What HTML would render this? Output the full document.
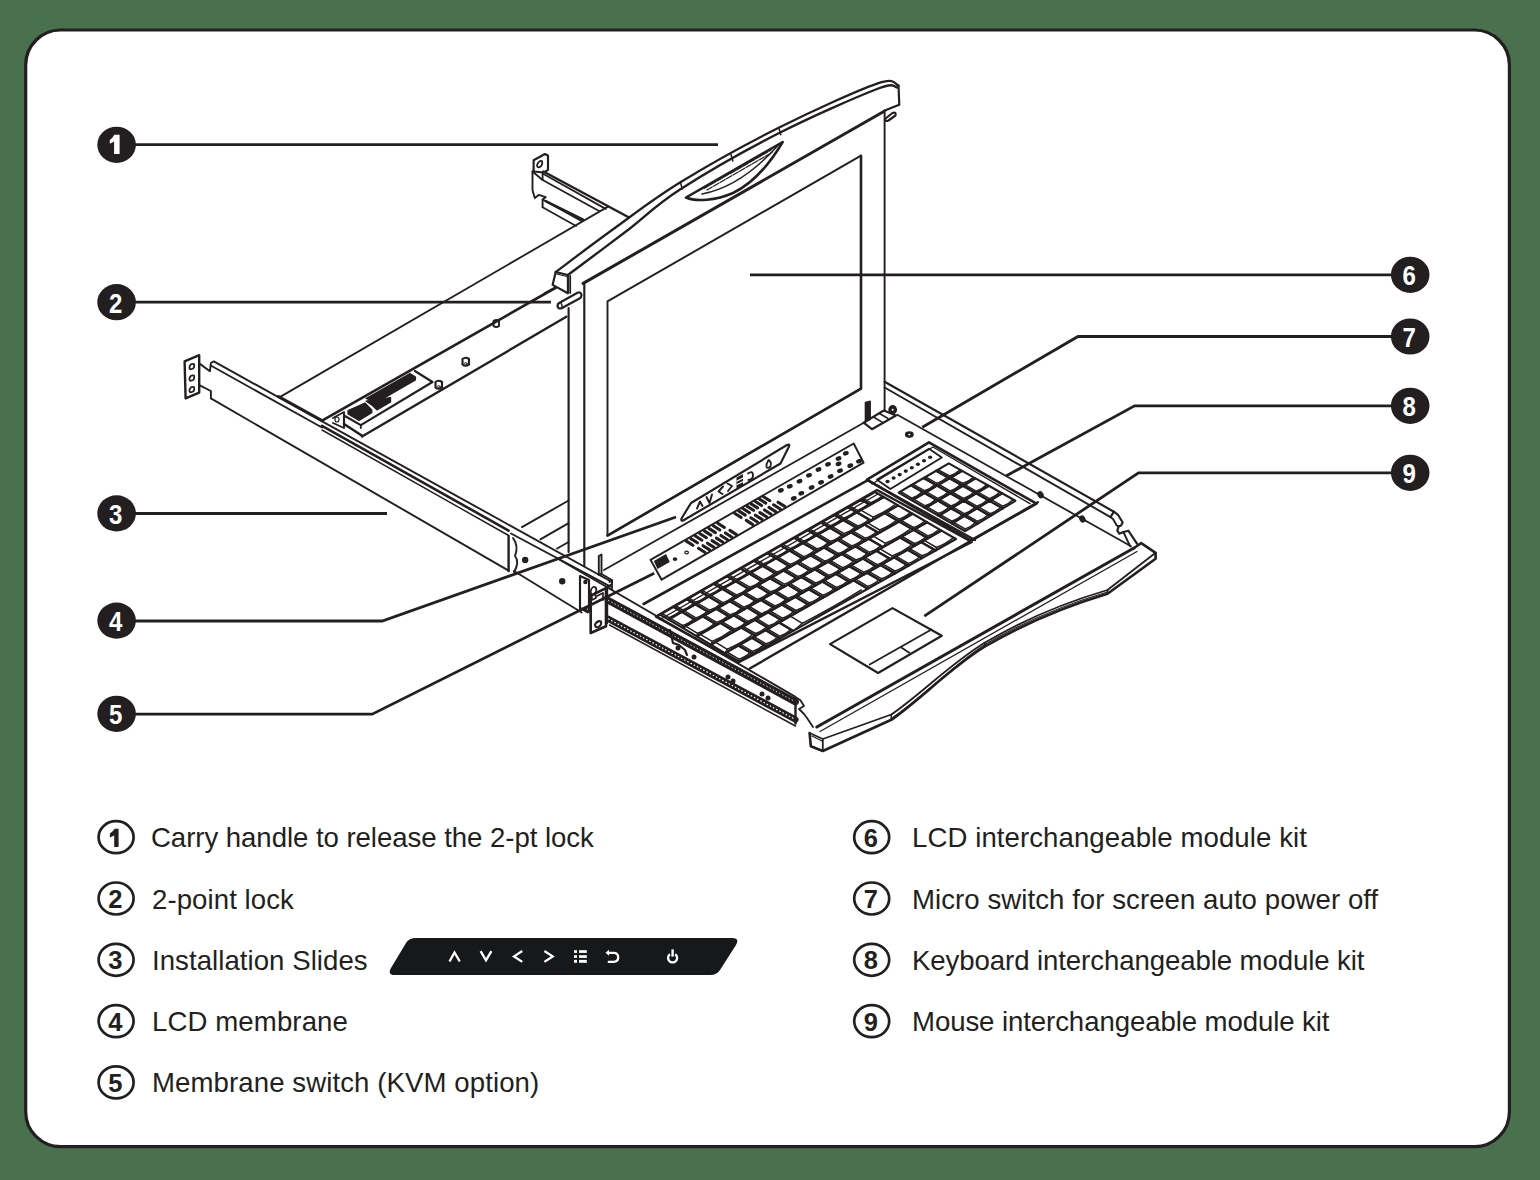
<!DOCTYPE html>
<html><head><meta charset="utf-8">
<style>
html,body{margin:0;padding:0;}
body{width:1540px;height:1180px;background:#4a714e;position:relative;overflow:hidden;font-family:"Liberation Sans",sans-serif;}
svg{position:absolute;left:0;top:0;}
.lg{position:absolute;font-size:27.6px;color:#231f20;white-space:nowrap;line-height:1;}
</style></head><body>
<svg width="1540" height="1180" viewBox="0 0 1540 1180">
<rect x="25.7" y="30" width="1483.7" height="1116.7" rx="35" ry="35" fill="#fff" stroke="#231f20" stroke-width="3.2"/>
<g id="drawing" fill="none" stroke="#231f20" stroke-width="1.5" stroke-linejoin="round" stroke-linecap="round">
<path d="M533.6 160.2 L544.9 154.0 L548.0 155.5 L548.0 169.9 L544.0 172.5 L533.6 171.5Z" stroke-width="2.16" fill="none" />
<path d="M537 165 Q539 160 542 161 Q543 165 540 167 Q537 168 537 165Z" stroke-width="1.8" fill="none" />
<path d="M532.5 171.5 L532.5 190.2 L534.8 198.0 L538.7 194.9 L545.7 197.2 L542.6 199.5 L542.6 207.3" stroke-width="1.92" fill="none" />
<path d="M543.4 171.5 L629.1 217.5" stroke-width="2.4" fill="none" />
<path d="M542.6 173.5 L605.7 208.9" stroke-width="1.8" fill="none" />
<path d="M542.6 180.0 L599.5 211.2" stroke-width="1.8" fill="none" />
<path d="M542.6 173.5 L542.6 180.0" stroke-width="1.8" fill="none" />
<path d="M532.5 171.5 L542.6 180.0" stroke-width="1.8" fill="none" />
<path d="M542.6 199.5 L582.3 221.4" stroke-width="1.68" fill="none" />
<path d="M545.7 201.1 L583.1 219.8" stroke-width="2.64" fill="none" />
<path d="M542.6 207.3 L576.1 226.0" stroke-width="1.68" fill="none" />
<path d="M280.2 396.9 L608.0 206.6" stroke-width="1.8" fill="none" />
<path d="M278.5 396.5 L322.0 420.5" stroke-width="3" fill="none" />
<path d="M323.4 419.8 L556.0 287.5" stroke-width="2.64" fill="none" />
<path d="M362.0 436.5 L566.3 316.8" stroke-width="2.4" fill="none" />
<path d="M414.9 371.0 L432.5 382.0 L360.8 425.1 L344.0 415.5 L344.0 424.0" stroke-width="2.16" fill="none" />
<path d="M360.8 425.1 L360.8 428.0" stroke-width="1.8" fill="none" />
<path d="M344.0 424.0 L362.5 436.0" stroke-width="2.64" fill="none" />
<path d="M366 398.5 L410 373.5 L415.5 377 L415.5 380 L376.5 402.5 Z" stroke-width="1.2" fill="#231f20" />
<path d="M366 401 L390.6 397.5 L390.6 402 L377 410 L373 406 Z" stroke-width="1.2" fill="#231f20" />
<path d="M348 410.5 L365 403 L371.8 410 L371.8 412.8 L359 420.5 L348 414 Z" stroke-width="1.2" fill="#231f20" />
<path d="M333.0 418.0 L344.0 412.0 L344.0 428.0 L333.0 423.0" stroke-width="1.92" fill="none" />
<ellipse cx="337" cy="419.5" rx="2" ry="2.5" stroke-width="1.2"/>
<path d="M462.5 359 Q465.5 356.5 469 359 L469 364.5 Q465.5 367 462.5 364.5Z" stroke-width="2.16" fill="none" />
<ellipse cx="465.7" cy="363.5" rx="1.4" ry="0.9" stroke-width="0.9"/>
<path d="M435.5 382 Q438.5 379.5 442 382 L442 387.5 Q438.5 390 435.5 387.5Z" stroke-width="2.16" fill="none" />
<ellipse cx="438.7" cy="386.5" rx="1.4" ry="0.9" stroke-width="0.9"/>
<path d="M493.5 321 Q496.3 319 499 321 L499 326 Q496.3 328 493.5 326Z" stroke-width="1.92" fill="none" />
<path d="M184.6 361.4 L199.2 355.2 L199.2 392.6 L185.6 398.4Z" stroke-width="2.4" fill="none" />
<path d="M189.5 367 Q190.5 363 194 364 Q195 368 192 369 Q189 370 189.5 367Z" stroke-width="1.8" fill="none" />
<path d="M189.5 378.5 Q190.5 374.5 194 375.5 Q195 379.5 192 380.5 Q189 381.5 189.5 378.5Z" stroke-width="1.8" fill="none" />
<path d="M189.5 390 Q190.5 386 194 387 Q195 391 192 392 Q189 393 189.5 390Z" stroke-width="1.8" fill="none" />
<path d="M199.2 363.4 L209.9 371.2 L210.9 363.0 L213.8 361.4 L612.0 582.0" stroke-width="1.92" fill="none" />
<path d="M211.2 365.8 L322.0 427.5" stroke-width="1.8" fill="none" />
<path d="M511.0 533.5 L610.5 586.6" stroke-width="1.8" fill="none" />
<path d="M322.0 425.8 L508.6 530.6" stroke-width="2.6" fill="none" />
<path d="M322.0 430.0 L508.6 535.5" stroke-width="1.44" fill="none" />
<path d="M199.2 385.2 L210.9 391.0 L210.9 398.4 L508.6 570.6" stroke-width="1.92" fill="none" />
<path d="M508.6 536.0 L508.6 571.0" stroke-width="2.4" fill="none" />
<path d="M513 538 Q519 546 515 556 Q520 562 514 572" stroke-width="1.92" fill="none" />
<path d="M514.0 571.0 L581.7 612.5" stroke-width="1.8" fill="none" />
<ellipse cx="525.2" cy="559.9" rx="3.2" ry="3.2" fill="#231f20" stroke="none" transform="rotate(0 525.2 559.9)"/>
<ellipse cx="562.2" cy="581.3" rx="3.2" ry="3.2" fill="#231f20" stroke="none" transform="rotate(0 562.2 581.3)"/>
<path d="M612.0 582.0 L612.0 590.0 L560.0 560.0" stroke-width="1.8" fill="none" />
<path d="M580.0 576.0 L589.0 580.0 L589.0 612.0 L580.0 608.0Z" stroke-width="2.16" fill="none" />
<path d="M580.0 608.0 L587.6 612.6" stroke-width="1.8" fill="none" />
<path d="M590.7 595.8 L606.0 588.1 L606.0 626.3 L590.7 633.0Z" stroke-width="2.64" fill="none" />
<path d="M589.0 590.0 L590.7 595.8" stroke-width="1.8" fill="none" />
<path d="M595 624.5 Q597.5 620 601 621.5 Q602 625 598.5 627 Q595 628 595 624.5Z" stroke-width="2.04" fill="none" />
<ellipse cx="585.4" cy="582.0" rx="2.2" ry="2.2" fill="#231f20" stroke="none" transform="rotate(0 585.4 582.0)"/>
<ellipse cx="585.4" cy="608.6" rx="2.2" ry="2.2" fill="#231f20" stroke="none" transform="rotate(0 585.4 608.6)"/>
<path d="M591 590 Q593 585 596 588 Q597 591 595 593 L596 598 L592 600 L591.5 594 Q590 592 591 590Z" stroke-width="1.8" fill="none" />
<path d="M597 596 L603 593 L603 600" stroke-width="1.68" fill="none" />
<path d="M598.8 556.0 L601.5 554.5 L601.5 574.0 L598.8 575.0Z" stroke-width="1.92" fill="none" />
<path d="M601.5 574.0 L611.0 579.5 L609.5 582.0" stroke-width="1.92" fill="none" />
<path d="M606.0 588.1 L612.0 584.0 L612.0 580.0" stroke-width="1.92" fill="none" />
<path d="M522.0 527.1 L568.6 500.5" stroke-width="1.92" fill="none" />
<path d="M540.4 539.3 L568.6 523.2" stroke-width="1.92" fill="none" />
<path d="M557.1 548.5 L568.6 542.0" stroke-width="1.92" fill="none" />
<path d="M555.7 272.0 C565.1 265.0 591.4 244.9 612.1 230.0 C632.8 215.1 652.3 199.5 680.0 182.5 C707.7 165.5 745.4 144.5 778.2 128.0 C811.0 111.5 857.0 90.6 877.0 83.6 C897.0 76.5 894.9 85.3 898.5 85.7" stroke-width="2.28" fill="none" />
<path d="M567.9 275.0 C577.7 267.7 607.9 245.2 626.6 231.0 C645.3 216.8 654.7 205.8 680.0 189.5 C705.3 173.2 745.4 150.2 778.2 133.5 C811.0 116.8 857.2 96.7 877.0 89.0 C896.8 81.3 893.7 87.8 897.0 87.5" stroke-width="2.4" fill="none" />
<path d="M898.5 85.7 L899.3 104.7 L884.1 110.7" stroke-width="2.16" fill="none" />
<path d="M680.5 182.5 L682.3 189.0" stroke-width="1.56" fill="none" />
<path d="M731.0 154.5 L732.8 161.0" stroke-width="1.56" fill="none" />
<path d="M779.0 128.2 L780.8 134.7" stroke-width="1.56" fill="none" />
<path d="M555.7 272.0 L567.9 275.0 L567.9 293.3 L552.6 284.9Z" stroke-width="2.16" fill="none" />
<path d="M570.2 276.0 L570.2 293.0" stroke-width="1.8" fill="none" />
<path d="M556.5 274.0 L567.0 276.5" stroke-width="1.2" fill="none" />
<path d="M545.0 293.3 L554.9 288.0" stroke-width="2.4" fill="none" />
<path d="M583.1 283.4 L884.2 111.3" stroke-width="3" fill="none" />
<path d="M686 197.5 L782.7 142 C772 160 756 182 733 193 C716 200.5 696 202 686 197.5Z" stroke-width="2.52" fill="none" />
<path d="M702 194 C728 189 752 174 777 146.5" stroke-width="1.56" fill="none" />
<path d="M704.0 188.5 L771.0 150.0" stroke-width="1.32" fill="none" stroke-dasharray="6 1.5"/>
<path d="M707.0 190.0 L772.0 152.5" stroke-width="1.32" fill="none" stroke-dasharray="6 1.5"/>
<path d="M560 302.5 L577.5 292.8 Q581 291.5 581.5 295 Q581.5 297.5 579.5 298.5 L562 308 Q558 309.5 557.5 306 Q557.5 303.5 560 302.5Z" stroke-width="2.16" fill="none" />
<path d="M561 303 Q563 306.5 561.5 308.5" stroke-width="1.44" fill="none" />
<path d="M885.5 118.5 L892.5 113 Q896.5 111.5 895.5 115.5 L888.5 120.5 Q884.5 122 885.5 118.5Z" stroke-width="2.16" fill="none" />
<path d="M568.6 308.0 L568.6 552.0" stroke-width="2.16" fill="none" />
<path d="M584.3 283.0 L584.3 566.0" stroke-width="2.16" fill="none" />
<path d="M884.6 111.0 L884.6 410.0" stroke-width="1.92" fill="none" />
<path d="M607.5 301.4 L861.0 155.7 L861.0 388.7 L607.5 535.5Z" stroke-width="1.92" fill="none" />
<path d="M861.0 155.7 L861.0 388.7 L607.5 535.5" stroke-width="2.6" fill="none" />
<path d="M604.0 570.0 L866.0 421.5" stroke-width="1.8" fill="none" />
<path d="M884.6 381.7 L1113.9 511.7 L1118.0 514.8 L1122.7 522.5 L1121.0 525.5 L1118.6 526.6 L1117.3 530.7 L1119.3 533.7 L1123.4 532.0 L1128.3 530.7 L1137.0 543.6" stroke-width="2.16" fill="none" />
<path d="M884.6 387.5 L1110.5 517.1 L1113.0 519.0 L1116.6 525.3 L1118.6 526.6" stroke-width="1.92" fill="none" />
<path d="M1123.4 532.0 L1130.2 546.3" stroke-width="1.92" fill="none" />
<path d="M1113.9 511.7 L1110.5 517.1" stroke-width="2.16" fill="none" />
<path d="M865.4 402.5 L870.2 401.3 L870.2 419.5 L865.4 421.5Z" stroke-width="1.44" fill="#231f20" />
<path d="M863.6 422.7 L883.8 410.5 L896.0 415.5 L871.9 429.2Z" stroke-width="2.16" fill="none" />
<path d="M873.5 417.0 L882.0 422.2" stroke-width="1.56" fill="none" />
<path d="M879.5 413.5 L888.0 418.5" stroke-width="1.56" fill="none" />
<ellipse cx="892.7" cy="409.7" rx="4.4" ry="4.6" fill="#231f20" stroke="none" transform="rotate(0 892.7 409.7)"/>
<ellipse cx="892.7" cy="409.7" rx="1.0" ry="1.0" fill="#fff" stroke="none" transform="rotate(0 892.7 409.7)"/>
<ellipse cx="909.3" cy="434.6" rx="4.4" ry="3.3" fill="#231f20" stroke="none" transform="rotate(0 909.3 434.6)"/>
<ellipse cx="909.3" cy="434.6" rx="1.1" ry="0.8" fill="#fff" stroke="none" transform="rotate(0 909.3 434.6)"/>
<ellipse cx="1040.5" cy="494.7" rx="3" ry="3.8" fill="#231f20" stroke="none" transform="rotate(-30 1040.5 494.7)"/>
<ellipse cx="1082.4" cy="519.0" rx="3" ry="3.8" fill="#231f20" stroke="none" transform="rotate(-30 1082.4 519.0)"/>
<path d="M691 503 L787 445 Q790 443.5 789 446.5 L780.5 463.5 L684 520 Q680.5 522 681.5 518.5 Z" stroke-width="2.16" fill="none" />
<path d="M650.5 559.8 L853.7 443.5 L863.6 462.7 L661.6 579.7Z" stroke-width="1.92" fill="none" />
<path d="M607.0 588.0 L607.0 623.0" stroke-width="2.4" fill="none" />
<path d="M608.5 588.0 L794.6 696.4" stroke-width="1.92" fill="none" />
<path d="M608.5 600.5 L795.4 701.8" stroke-width="7" fill="none" />
<path d="M608.5 600.5 L795.4 701.8" stroke-width="0.84" fill="none" stroke="#fff" stroke-dasharray="0.6 3"/>
<path d="M608.5 619.0 L795.4 719.5" stroke-width="6.5" fill="none" />
<path d="M608.5 619.0 L795.4 719.5" stroke-width="1.2" fill="none" stroke="#fff" stroke-dasharray="0.6 3"/>
<path d="M609.5 625.0 L795.5 726.0" stroke-width="1.56" fill="none" />
<path d="M670.0 630.0 L673.0 643.0 L679.0 645.0 L685.0 650.0 L687.0 655.0" stroke-width="2.16" fill="none" />
<ellipse cx="678.0" cy="648.0" rx="2.5" ry="2.5" fill="#231f20" stroke="none" transform="rotate(0 678.0 648.0)"/>
<ellipse cx="694.0" cy="657.0" rx="2.5" ry="2.5" fill="#231f20" stroke="none" transform="rotate(0 694.0 657.0)"/>
<ellipse cx="728.0" cy="677.0" rx="2.5" ry="2.5" fill="#231f20" stroke="none" transform="rotate(0 728.0 677.0)"/>
<ellipse cx="733.0" cy="681.0" rx="2.5" ry="2.5" fill="#231f20" stroke="none" transform="rotate(0 733.0 681.0)"/>
<ellipse cx="762.0" cy="694.0" rx="2.5" ry="2.5" fill="#231f20" stroke="none" transform="rotate(0 762.0 694.0)"/>
<ellipse cx="768.0" cy="698.0" rx="2.5" ry="2.5" fill="#231f20" stroke="none" transform="rotate(0 768.0 698.0)"/>
<path d="M794.6 696.4 L800.4 700.3 L804.0 706.0 L799.0 709.0 L804.0 714.0 L807.0 718.0 L813.0 727.0" stroke-width="1.8" fill="none" />
<path d="M795.5 698.0 L795.5 723.6" stroke-width="2.4" fill="none" />
<path d="M816.8 727.0 L1134.0 548.0" stroke-width="3" fill="none" />
<path d="M820.0 731.5 L1137.0 551.5" stroke-width="1.32" fill="none" />
<path d="M809.6 733 L810.8 746.2 L822.8 751 L891.3 719.8 C920 700 950 668 985 646.5 C1030 620 1070 605 1107.5 593.7 L1155.6 558.8 L1155.6 552.8 L1141.2 543.2 L1134 548" stroke-width="2.64" fill="none" />
<path d="M809.6 733 L822.8 739 L822.8 751" stroke-width="1.8" fill="none" />
<path d="M822.8 739 L891.3 714.5 C920 695 950 664 985 642.5 C1030 616 1070 601 1107.5 590 L1155.6 552.8" stroke-width="1.8" fill="none" />
<path d="M893 717.3 C922 697.5 952 666 985 644.5" stroke-width="1.2" fill="none" />
<path d="M985 644.5 C1030 618 1070 603 1107.5 592" stroke-width="1.2" fill="none" />
<path d="M891.3 714.5 L891.3 719.8" stroke-width="1.56" fill="none" />
<path d="M985.0 642.5 L985.0 646.5" stroke-width="1.56" fill="none" />
<path d="M1107.5 590.0 L1107.5 593.7" stroke-width="1.56" fill="none" />
<path d="M812.0 736.0 L822.0 741.0" stroke-width="1.2" fill="none" />
<path d="M897.3 414.8 L1131.0 546.3" stroke-width="1.8" fill="none" />
<path d="M830.0 644.1 L892.5 608.1 L941.8 635.7 L878.1 673.0Z" stroke-width="2.16" fill="none" />
<path d="M869.7 664.5 L931.5 629.5" stroke-width="1.8" fill="none" />
<path d="M900.9 647.2 L909.3 652.8" stroke-width="1.8" fill="none" />
<path d="M653.8 561 L666 554 L669.8 562 L657.5 569Z" stroke-width="0" fill="#231f20" />
<ellipse cx="675.0" cy="559.1" rx="2.3" ry="1.9" fill="#231f20" stroke="none" transform="rotate(0 675.0 559.1)"/>
<ellipse cx="686.6" cy="552.5" rx="1.8" ry="1.3" stroke-width="1.2"/>
<path d="M686.3 541.1 L692.9 545.3" stroke-width="3.1"/>
<path d="M690.8 538.6 L697.4 542.8" stroke-width="3.1"/>
<path d="M695.3 536.0 L701.9 540.2" stroke-width="3.1"/>
<path d="M699.8 533.5 L706.4 537.7" stroke-width="3.1"/>
<path d="M704.3 530.9 L710.9 535.1" stroke-width="3.1"/>
<path d="M708.8 528.4 L715.4 532.6" stroke-width="3.1"/>
<path d="M713.3 525.8 L719.9 530.0" stroke-width="3.1"/>
<path d="M717.8 523.3 L724.4 527.5" stroke-width="3.1"/>
<path d="M698.5 548.3 L705.1 552.5" stroke-width="3.1"/>
<path d="M703.0 545.7 L709.6 549.9" stroke-width="3.1"/>
<path d="M707.5 543.2 L714.1 547.4" stroke-width="3.1"/>
<path d="M712.0 540.6 L718.6 544.8" stroke-width="3.1"/>
<path d="M716.4 538.1 L723.0 542.3" stroke-width="3.1"/>
<path d="M720.9 535.5 L727.5 539.7" stroke-width="3.1"/>
<path d="M725.4 533.0 L732.0 537.2" stroke-width="3.1"/>
<path d="M729.9 530.4 L736.5 534.6" stroke-width="3.1"/>
<path d="M734.6 513.3 L741.2 517.5" stroke-width="3.1"/>
<path d="M738.7 510.9 L745.3 515.1" stroke-width="3.1"/>
<path d="M742.8 508.5 L749.4 512.7" stroke-width="3.1"/>
<path d="M746.9 506.1 L753.5 510.3" stroke-width="3.1"/>
<path d="M750.9 503.7 L757.5 507.9" stroke-width="3.1"/>
<path d="M755.0 501.3 L761.6 505.5" stroke-width="3.1"/>
<path d="M759.1 498.9 L765.7 503.1" stroke-width="3.1"/>
<path d="M763.2 496.5 L769.8 500.7" stroke-width="3.1"/>
<path d="M746.3 520.4 L752.9 524.6" stroke-width="3.1"/>
<path d="M750.8 517.8 L757.4 522.0" stroke-width="3.1"/>
<path d="M755.4 515.2 L762.0 519.4" stroke-width="3.1"/>
<path d="M759.9 512.6 L766.5 516.8" stroke-width="3.1"/>
<path d="M764.5 510.0 L771.1 514.2" stroke-width="3.1"/>
<path d="M769.0 507.4 L775.6 511.6" stroke-width="3.1"/>
<path d="M773.6 504.8 L780.2 509.0" stroke-width="3.1"/>
<path d="M778.1 502.2 L784.7 506.4" stroke-width="3.1"/>
<ellipse cx="780.9" cy="490.4" rx="3.0" ry="2.2" fill="#231f20" stroke="none" transform="rotate(-20 780.9 490.4)"/>
<ellipse cx="789.8" cy="486.3" rx="3.0" ry="2.2" fill="#231f20" stroke="none" transform="rotate(-20 789.8 486.3)"/>
<ellipse cx="799.5" cy="481.2" rx="3.0" ry="2.2" fill="#231f20" stroke="none" transform="rotate(-20 799.5 481.2)"/>
<ellipse cx="809.0" cy="475.3" rx="3.0" ry="2.2" fill="#231f20" stroke="none" transform="rotate(-20 809.0 475.3)"/>
<ellipse cx="818.5" cy="469.5" rx="3.0" ry="2.2" fill="#231f20" stroke="none" transform="rotate(-20 818.5 469.5)"/>
<ellipse cx="828.0" cy="464.3" rx="3.0" ry="2.2" fill="#231f20" stroke="none" transform="rotate(-20 828.0 464.3)"/>
<ellipse cx="838.5" cy="458.5" rx="3.0" ry="2.2" fill="#231f20" stroke="none" transform="rotate(-20 838.5 458.5)"/>
<ellipse cx="845.8" cy="453.3" rx="3.0" ry="2.2" fill="#231f20" stroke="none" transform="rotate(-20 845.8 453.3)"/>
<ellipse cx="793.8" cy="498.4" rx="3.0" ry="2.2" fill="#231f20" stroke="none" transform="rotate(-20 793.8 498.4)"/>
<ellipse cx="801.3" cy="493.3" rx="3.0" ry="2.2" fill="#231f20" stroke="none" transform="rotate(-20 801.3 493.3)"/>
<ellipse cx="811.6" cy="487.5" rx="3.0" ry="2.2" fill="#231f20" stroke="none" transform="rotate(-20 811.6 487.5)"/>
<ellipse cx="821.1" cy="482.4" rx="3.0" ry="2.2" fill="#231f20" stroke="none" transform="rotate(-20 821.1 482.4)"/>
<ellipse cx="830.6" cy="476.5" rx="3.0" ry="2.2" fill="#231f20" stroke="none" transform="rotate(-20 830.6 476.5)"/>
<ellipse cx="840.0" cy="470.7" rx="3.0" ry="2.2" fill="#231f20" stroke="none" transform="rotate(-20 840.0 470.7)"/>
<ellipse cx="850.3" cy="465.6" rx="3.0" ry="2.2" fill="#231f20" stroke="none" transform="rotate(-20 850.3 465.6)"/>
<ellipse cx="859.0" cy="461.2" rx="3.0" ry="2.2" fill="#231f20" stroke="none" transform="rotate(-20 859.0 461.2)"/>
<ellipse cx="838.6" cy="463.9" rx="3.0" ry="2.2" fill="#231f20" stroke="none" transform="rotate(-20 838.6 463.9)"/>
<path d="M697 508.5 L700 501.5 L702.5 506" stroke-width="1.92" fill="none" />
<path d="M706.5 497 L709.5 503 L712 494.5" stroke-width="1.92" fill="none" />
<path d="M723 486.5 L718.5 491.5 L722.5 494" stroke-width="1.92" fill="none" />
<path d="M727.5 483.5 L732 486 L728 491" stroke-width="1.92" fill="none" />
<path d="M736.5 477.5 L743 474 L743 485.5 L736.5 489Z" stroke-width="0" fill="#231f20" />
<path d="M737.0 481.0 L743.0 478.0" stroke-width="1.08" fill="none" stroke="#fff"/>
<path d="M737.0 484.5 L743.0 481.5" stroke-width="1.08" fill="none" stroke="#fff"/>
<path d="M748 473.5 Q753 470 753 475.5 Q753 479.5 748.5 480" stroke-width="1.92" fill="none" />
<path d="M768.5 460 Q766 464 766.5 467 Q768 469 770.5 466.5 Q772 462 768.5 460Z" stroke-width="1.8" fill="none" />
<path d="M660.0 614.5 L673.4 606.8 L681.9 611.9 L668.5 619.5Z" stroke-width="2.16" fill="none" />
<path d="M662.5 613.7 L669.2 617.6 Q675.4 615.1 679.8 611.6" stroke-width="1.5" fill="none" />
<path d="M668.5 619.5 L669.2 617.6" stroke-width="1.32" fill="none" />
<path d="M673.4 606.8 L686.9 599.2 L695.4 604.2 L681.9 611.9Z" stroke-width="2.16" fill="none" />
<path d="M676.0 606.0 L682.7 610.0 Q688.9 607.5 693.3 603.9" stroke-width="1.5" fill="none" />
<path d="M681.9 611.9 L682.7 610.0" stroke-width="1.32" fill="none" />
<path d="M686.9 599.2 L700.3 591.5 L708.8 596.6 L695.4 604.2Z" stroke-width="2.16" fill="none" />
<path d="M689.4 598.3 L696.1 602.3 Q702.3 599.8 706.7 596.3" stroke-width="1.5" fill="none" />
<path d="M695.4 604.2 L696.1 602.3" stroke-width="1.32" fill="none" />
<path d="M700.3 591.5 L713.8 583.9 L722.3 588.9 L708.8 596.6Z" stroke-width="2.16" fill="none" />
<path d="M702.8 590.7 L709.6 594.7 Q715.8 592.2 720.2 588.6" stroke-width="1.5" fill="none" />
<path d="M708.8 596.6 L709.6 594.7" stroke-width="1.32" fill="none" />
<path d="M713.8 583.9 L727.2 576.2 L735.7 581.3 L722.3 588.9Z" stroke-width="2.16" fill="none" />
<path d="M716.3 583.0 L723.0 587.0 Q729.2 584.5 733.6 581.0" stroke-width="1.5" fill="none" />
<path d="M722.3 588.9 L723.0 587.0" stroke-width="1.32" fill="none" />
<path d="M727.2 576.2 L740.6 568.6 L749.2 573.6 L735.7 581.3Z" stroke-width="2.16" fill="none" />
<path d="M729.7 575.4 L736.5 579.4 Q742.7 576.9 747.1 573.3" stroke-width="1.5" fill="none" />
<path d="M735.7 581.3 L736.5 579.4" stroke-width="1.32" fill="none" />
<path d="M740.6 568.6 L754.1 560.9 L762.6 565.9 L749.2 573.6Z" stroke-width="2.16" fill="none" />
<path d="M743.2 567.7 L749.9 571.7 Q756.1 569.2 760.5 565.6" stroke-width="1.5" fill="none" />
<path d="M749.2 573.6 L749.9 571.7" stroke-width="1.32" fill="none" />
<path d="M754.1 560.9 L767.5 553.2 L776.1 558.3 L762.6 565.9Z" stroke-width="2.16" fill="none" />
<path d="M756.6 560.1 L763.4 564.0 Q769.6 561.5 774.0 558.0" stroke-width="1.5" fill="none" />
<path d="M762.6 565.9 L763.4 564.0" stroke-width="1.32" fill="none" />
<path d="M767.5 553.2 L780.9 545.6 L789.5 550.6 L776.1 558.3Z" stroke-width="2.16" fill="none" />
<path d="M770.0 552.4 L776.8 556.4 Q783.0 553.9 787.4 550.3" stroke-width="1.5" fill="none" />
<path d="M776.1 558.3 L776.8 556.4" stroke-width="1.32" fill="none" />
<path d="M780.9 545.6 L794.4 537.9 L803.0 543.0 L789.5 550.6Z" stroke-width="2.16" fill="none" />
<path d="M783.5 544.7 L790.3 548.7 Q796.5 546.2 800.9 542.7" stroke-width="1.5" fill="none" />
<path d="M789.5 550.6 L790.3 548.7" stroke-width="1.32" fill="none" />
<path d="M794.4 537.9 L807.8 530.3 L816.4 535.3 L803.0 543.0Z" stroke-width="2.16" fill="none" />
<path d="M796.9 537.1 L803.7 541.1 Q809.9 538.6 814.3 535.0" stroke-width="1.5" fill="none" />
<path d="M803.0 543.0 L803.7 541.1" stroke-width="1.32" fill="none" />
<path d="M807.8 530.3 L821.2 522.6 L829.9 527.7 L816.4 535.3Z" stroke-width="2.16" fill="none" />
<path d="M810.3 529.4 L817.1 533.4 Q823.4 530.9 827.8 527.4" stroke-width="1.5" fill="none" />
<path d="M816.4 535.3 L817.1 533.4" stroke-width="1.32" fill="none" />
<path d="M821.2 522.6 L834.7 515.0 L843.3 520.0 L829.9 527.7Z" stroke-width="2.16" fill="none" />
<path d="M823.8 521.8 L830.6 525.8 Q836.8 523.3 841.2 519.7" stroke-width="1.5" fill="none" />
<path d="M829.9 527.7 L830.6 525.8" stroke-width="1.32" fill="none" />
<path d="M834.7 515.0 L848.1 507.3 L856.8 512.3 L843.3 520.0Z" stroke-width="2.16" fill="none" />
<path d="M837.2 514.1 L844.0 518.1 Q850.3 515.6 854.7 512.1" stroke-width="1.5" fill="none" />
<path d="M843.3 520.0 L844.0 518.1" stroke-width="1.32" fill="none" />
<path d="M848.1 507.3 L861.6 499.7 L870.2 504.7 L856.8 512.3Z" stroke-width="2.16" fill="none" />
<path d="M850.7 506.5 L857.5 510.4 Q863.7 507.9 868.1 504.4" stroke-width="1.5" fill="none" />
<path d="M856.8 512.3 L857.5 510.4" stroke-width="1.32" fill="none" />
<path d="M861.6 499.7 L875.0 492.0 L883.7 497.0 L870.2 504.7Z" stroke-width="2.16" fill="none" />
<path d="M864.1 498.8 L870.9 502.8 Q877.2 500.3 881.6 496.7" stroke-width="1.5" fill="none" />
<path d="M870.2 504.7 L870.9 502.8" stroke-width="1.32" fill="none" />
<path d="M668.5 619.5 L681.9 611.9 L696.0 620.3 L682.6 627.9Z" stroke-width="2.16" fill="none" />
<path d="M671.3 618.9 L682.5 625.5 Q689.3 623.4 693.1 619.5" stroke-width="1.5" fill="none" />
<path d="M682.6 627.9 L682.5 625.5" stroke-width="1.32" fill="none" />
<path d="M681.9 611.9 L695.4 604.2 L709.5 612.6 L696.0 620.3Z" stroke-width="2.16" fill="none" />
<path d="M684.8 611.2 L695.9 617.9 Q702.8 615.7 706.6 611.8" stroke-width="1.5" fill="none" />
<path d="M696.0 620.3 L695.9 617.9" stroke-width="1.32" fill="none" />
<path d="M695.4 604.2 L708.8 596.6 L723.0 605.0 L709.5 612.6Z" stroke-width="2.16" fill="none" />
<path d="M698.2 603.6 L709.4 610.2 Q716.2 608.1 720.1 604.2" stroke-width="1.5" fill="none" />
<path d="M709.5 612.6 L709.4 610.2" stroke-width="1.32" fill="none" />
<path d="M708.8 596.6 L722.3 588.9 L736.5 597.3 L723.0 605.0Z" stroke-width="2.16" fill="none" />
<path d="M711.7 595.9 L722.9 602.6 Q729.7 600.4 733.5 596.5" stroke-width="1.5" fill="none" />
<path d="M723.0 605.0 L722.9 602.6" stroke-width="1.32" fill="none" />
<path d="M722.3 588.9 L735.7 581.3 L749.9 589.6 L736.5 597.3Z" stroke-width="2.16" fill="none" />
<path d="M725.1 588.3 L736.4 594.9 Q743.2 592.8 747.0 588.8" stroke-width="1.5" fill="none" />
<path d="M736.5 597.3 L736.4 594.9" stroke-width="1.32" fill="none" />
<path d="M735.7 581.3 L749.2 573.6 L763.4 582.0 L749.9 589.6Z" stroke-width="2.16" fill="none" />
<path d="M738.6 580.6 L749.8 587.2 Q756.6 585.1 760.5 581.2" stroke-width="1.5" fill="none" />
<path d="M749.9 589.6 L749.8 587.2" stroke-width="1.32" fill="none" />
<path d="M749.2 573.6 L762.6 565.9 L776.9 574.3 L763.4 582.0Z" stroke-width="2.16" fill="none" />
<path d="M752.0 573.0 L763.3 579.6 Q770.1 577.4 773.9 573.5" stroke-width="1.5" fill="none" />
<path d="M763.4 582.0 L763.3 579.6" stroke-width="1.32" fill="none" />
<path d="M762.6 565.9 L776.1 558.3 L790.4 566.7 L776.9 574.3Z" stroke-width="2.16" fill="none" />
<path d="M765.5 565.3 L776.8 571.9 Q783.6 569.8 787.4 565.9" stroke-width="1.5" fill="none" />
<path d="M776.9 574.3 L776.8 571.9" stroke-width="1.32" fill="none" />
<path d="M776.1 558.3 L789.5 550.6 L803.8 559.0 L790.4 566.7Z" stroke-width="2.16" fill="none" />
<path d="M778.9 557.6 L790.2 564.3 Q797.1 562.1 800.9 558.2" stroke-width="1.5" fill="none" />
<path d="M790.4 566.7 L790.2 564.3" stroke-width="1.32" fill="none" />
<path d="M789.5 550.6 L803.0 543.0 L817.3 551.4 L803.8 559.0Z" stroke-width="2.16" fill="none" />
<path d="M792.4 550.0 L803.7 556.6 Q810.5 554.5 814.3 550.6" stroke-width="1.5" fill="none" />
<path d="M803.8 559.0 L803.7 556.6" stroke-width="1.32" fill="none" />
<path d="M803.0 543.0 L816.4 535.3 L830.8 543.7 L817.3 551.4Z" stroke-width="2.16" fill="none" />
<path d="M805.9 542.3 L817.2 549.0 Q824.0 546.8 827.8 542.9" stroke-width="1.5" fill="none" />
<path d="M817.3 551.4 L817.2 549.0" stroke-width="1.32" fill="none" />
<path d="M816.4 535.3 L829.9 527.7 L844.2 536.1 L830.8 543.7Z" stroke-width="2.16" fill="none" />
<path d="M819.3 534.7 L830.6 541.3 Q837.5 539.2 841.3 535.3" stroke-width="1.5" fill="none" />
<path d="M830.8 543.7 L830.6 541.3" stroke-width="1.32" fill="none" />
<path d="M829.9 527.7 L843.3 520.0 L857.7 528.4 L844.2 536.1Z" stroke-width="2.16" fill="none" />
<path d="M832.8 527.0 L844.1 533.6 Q850.9 531.5 854.8 527.6" stroke-width="1.5" fill="none" />
<path d="M844.2 536.1 L844.1 533.6" stroke-width="1.32" fill="none" />
<path d="M843.3 520.0 L856.8 512.3 L871.2 520.7 L857.7 528.4Z" stroke-width="2.16" fill="none" />
<path d="M846.2 519.4 L857.6 526.0 Q864.4 523.8 868.2 519.9" stroke-width="1.5" fill="none" />
<path d="M857.7 528.4 L857.6 526.0" stroke-width="1.32" fill="none" />
<path d="M856.8 512.3 L883.7 497.0 L898.1 505.4 L871.2 520.7Z" stroke-width="2.16" fill="none" />
<path d="M861.7 510.6 L873.1 517.2 Q885.2 512.0 894.4 505.1" stroke-width="1.5" fill="none" />
<path d="M871.2 520.7 L873.1 517.2" stroke-width="1.32" fill="none" />
<path d="M682.6 627.9 L702.8 616.4 L716.9 624.8 L696.7 636.3Z" stroke-width="2.16" fill="none" />
<path d="M686.4 626.7 L697.6 633.3 Q707.1 629.7 713.6 624.3" stroke-width="1.5" fill="none" />
<path d="M696.7 636.3 L697.6 633.3" stroke-width="1.32" fill="none" />
<path d="M702.8 616.4 L716.3 608.8 L730.4 617.2 L716.9 624.8Z" stroke-width="2.16" fill="none" />
<path d="M705.7 615.8 L716.8 622.4 Q723.6 620.3 727.5 616.4" stroke-width="1.5" fill="none" />
<path d="M716.9 624.8 L716.8 622.4" stroke-width="1.32" fill="none" />
<path d="M716.3 608.8 L729.7 601.1 L743.9 609.5 L730.4 617.2Z" stroke-width="2.16" fill="none" />
<path d="M719.1 608.1 L730.3 614.8 Q737.1 612.6 741.0 608.7" stroke-width="1.5" fill="none" />
<path d="M730.4 617.2 L730.3 614.8" stroke-width="1.32" fill="none" />
<path d="M729.7 601.1 L743.2 593.5 L757.4 601.9 L743.9 609.5Z" stroke-width="2.16" fill="none" />
<path d="M732.6 600.5 L743.8 607.1 Q750.6 605.0 754.5 601.1" stroke-width="1.5" fill="none" />
<path d="M743.9 609.5 L743.8 607.1" stroke-width="1.32" fill="none" />
<path d="M743.2 593.5 L756.7 585.8 L770.9 594.2 L757.4 601.9Z" stroke-width="2.16" fill="none" />
<path d="M746.1 592.8 L757.3 599.5 Q764.1 597.3 768.0 593.4" stroke-width="1.5" fill="none" />
<path d="M757.4 601.9 L757.3 599.5" stroke-width="1.32" fill="none" />
<path d="M756.7 585.8 L770.1 578.2 L784.4 586.6 L770.9 594.2Z" stroke-width="2.16" fill="none" />
<path d="M759.5 585.2 L770.8 591.8 Q777.6 589.7 781.5 585.8" stroke-width="1.5" fill="none" />
<path d="M770.9 594.2 L770.8 591.8" stroke-width="1.32" fill="none" />
<path d="M770.1 578.2 L783.6 570.5 L797.9 578.9 L784.4 586.6Z" stroke-width="2.16" fill="none" />
<path d="M773.0 577.5 L784.3 584.1 Q791.1 582.0 794.9 578.1" stroke-width="1.5" fill="none" />
<path d="M784.4 586.6 L784.3 584.1" stroke-width="1.32" fill="none" />
<path d="M783.6 570.5 L797.1 562.9 L811.4 571.2 L797.9 578.9Z" stroke-width="2.16" fill="none" />
<path d="M786.5 569.9 L797.8 576.5 Q804.6 574.3 808.4 570.4" stroke-width="1.5" fill="none" />
<path d="M797.9 578.9 L797.8 576.5" stroke-width="1.32" fill="none" />
<path d="M797.1 562.9 L810.6 555.2 L824.9 563.6 L811.4 571.2Z" stroke-width="2.16" fill="none" />
<path d="M800.0 562.2 L811.3 568.8 Q818.1 566.7 821.9 562.8" stroke-width="1.5" fill="none" />
<path d="M811.4 571.2 L811.3 568.8" stroke-width="1.32" fill="none" />
<path d="M810.6 555.2 L824.0 547.5 L838.4 555.9 L824.9 563.6Z" stroke-width="2.16" fill="none" />
<path d="M813.4 554.5 L824.8 561.2 Q831.6 559.0 835.4 555.1" stroke-width="1.5" fill="none" />
<path d="M824.9 563.6 L824.8 561.2" stroke-width="1.32" fill="none" />
<path d="M824.0 547.5 L837.5 539.9 L851.9 548.3 L838.4 555.9Z" stroke-width="2.16" fill="none" />
<path d="M826.9 546.9 L838.3 553.5 Q845.1 551.4 848.9 547.5" stroke-width="1.5" fill="none" />
<path d="M838.4 555.9 L838.3 553.5" stroke-width="1.32" fill="none" />
<path d="M837.5 539.9 L851.0 532.2 L865.4 540.6 L851.9 548.3Z" stroke-width="2.16" fill="none" />
<path d="M840.4 539.2 L851.7 545.9 Q858.6 543.7 862.4 539.8" stroke-width="1.5" fill="none" />
<path d="M851.9 548.3 L851.7 545.9" stroke-width="1.32" fill="none" />
<path d="M851.0 532.2 L864.5 524.6 L878.9 533.0 L865.4 540.6Z" stroke-width="2.16" fill="none" />
<path d="M853.9 531.6 L865.2 538.2 Q872.1 536.1 875.9 532.2" stroke-width="1.5" fill="none" />
<path d="M865.4 540.6 L865.2 538.2" stroke-width="1.32" fill="none" />
<path d="M864.5 524.6 L884.7 513.1 L899.1 521.5 L878.9 533.0Z" stroke-width="2.16" fill="none" />
<path d="M868.4 523.4 L879.7 530.0 Q889.3 526.3 895.7 520.9" stroke-width="1.5" fill="none" />
<path d="M878.9 533.0 L879.7 530.0" stroke-width="1.32" fill="none" />
<path d="M884.7 513.1 L898.1 505.4 L912.6 513.8 L899.1 521.5Z" stroke-width="2.16" fill="none" />
<path d="M887.6 512.4 L899.0 519.1 Q905.8 516.9 909.6 513.0" stroke-width="1.5" fill="none" />
<path d="M899.1 521.5 L899.0 519.1" stroke-width="1.32" fill="none" />
<path d="M696.7 636.3 L720.3 622.9 L734.4 631.3 L710.8 644.7Z" stroke-width="2.16" fill="none" />
<path d="M701.1 634.8 L712.2 641.4 Q723.0 637.0 730.9 630.9" stroke-width="1.5" fill="none" />
<path d="M710.8 644.7 L712.2 641.4" stroke-width="1.32" fill="none" />
<path d="M720.3 622.9 L733.8 615.3 L748.0 623.7 L734.4 631.3Z" stroke-width="2.16" fill="none" />
<path d="M723.2 622.3 L734.3 628.9 Q741.2 626.8 745.0 622.9" stroke-width="1.5" fill="none" />
<path d="M734.4 631.3 L734.3 628.9" stroke-width="1.32" fill="none" />
<path d="M733.8 615.3 L747.3 607.6 L761.5 616.0 L748.0 623.7Z" stroke-width="2.16" fill="none" />
<path d="M736.7 614.6 L747.9 621.3 Q754.7 619.1 758.5 615.2" stroke-width="1.5" fill="none" />
<path d="M748.0 623.7 L747.9 621.3" stroke-width="1.32" fill="none" />
<path d="M747.3 607.6 L760.8 600.0 L775.0 608.3 L761.5 616.0Z" stroke-width="2.16" fill="none" />
<path d="M750.2 607.0 L761.4 613.6 Q768.2 611.5 772.1 607.5" stroke-width="1.5" fill="none" />
<path d="M761.5 616.0 L761.4 613.6" stroke-width="1.32" fill="none" />
<path d="M760.8 600.0 L774.3 592.3 L788.5 600.7 L775.0 608.3Z" stroke-width="2.16" fill="none" />
<path d="M763.7 599.3 L774.9 605.9 Q781.7 603.8 785.6 599.9" stroke-width="1.5" fill="none" />
<path d="M775.0 608.3 L774.9 605.9" stroke-width="1.32" fill="none" />
<path d="M774.3 592.3 L787.8 584.6 L802.0 593.0 L788.5 600.7Z" stroke-width="2.16" fill="none" />
<path d="M777.2 591.7 L788.4 598.3 Q795.2 596.1 799.1 592.2" stroke-width="1.5" fill="none" />
<path d="M788.5 600.7 L788.4 598.3" stroke-width="1.32" fill="none" />
<path d="M787.8 584.6 L801.3 577.0 L815.5 585.4 L802.0 593.0Z" stroke-width="2.16" fill="none" />
<path d="M790.7 584.0 L801.9 590.6 Q808.8 588.5 812.6 584.6" stroke-width="1.5" fill="none" />
<path d="M802.0 593.0 L801.9 590.6" stroke-width="1.32" fill="none" />
<path d="M801.3 577.0 L814.8 569.3 L829.1 577.7 L815.5 585.4Z" stroke-width="2.16" fill="none" />
<path d="M804.2 576.3 L815.4 583.0 Q822.3 580.8 826.1 576.9" stroke-width="1.5" fill="none" />
<path d="M815.5 585.4 L815.4 583.0" stroke-width="1.32" fill="none" />
<path d="M814.8 569.3 L828.3 561.7 L842.6 570.1 L829.1 577.7Z" stroke-width="2.16" fill="none" />
<path d="M817.6 568.7 L828.9 575.3 Q835.8 573.2 839.6 569.3" stroke-width="1.5" fill="none" />
<path d="M829.1 577.7 L828.9 575.3" stroke-width="1.32" fill="none" />
<path d="M828.3 561.7 L841.8 554.0 L856.1 562.4 L842.6 570.1Z" stroke-width="2.16" fill="none" />
<path d="M831.1 561.0 L842.5 567.7 Q849.3 565.5 853.1 561.6" stroke-width="1.5" fill="none" />
<path d="M842.6 570.1 L842.5 567.7" stroke-width="1.32" fill="none" />
<path d="M841.8 554.0 L855.3 546.4 L869.6 554.8 L856.1 562.4Z" stroke-width="2.16" fill="none" />
<path d="M844.6 553.4 L856.0 560.0 Q862.8 557.9 866.7 554.0" stroke-width="1.5" fill="none" />
<path d="M856.1 562.4 L856.0 560.0" stroke-width="1.32" fill="none" />
<path d="M855.3 546.4 L868.7 538.7 L883.1 547.1 L869.6 554.8Z" stroke-width="2.16" fill="none" />
<path d="M858.1 545.7 L869.5 552.3 Q876.3 550.2 880.2 546.3" stroke-width="1.5" fill="none" />
<path d="M869.6 554.8 L869.5 552.3" stroke-width="1.32" fill="none" />
<path d="M868.7 538.7 L899.1 521.5 L913.6 529.9 L883.1 547.1Z" stroke-width="2.16" fill="none" />
<path d="M874.2 536.6 L885.5 543.3 Q899.1 537.3 909.6 529.6" stroke-width="1.5" fill="none" />
<path d="M883.1 547.1 L885.5 543.3" stroke-width="1.32" fill="none" />
<path d="M899.1 521.5 L912.6 513.8 L927.1 522.2 L913.6 529.9Z" stroke-width="2.16" fill="none" />
<path d="M902.0 520.8 L913.4 527.5 Q920.3 525.3 924.1 521.4" stroke-width="1.5" fill="none" />
<path d="M913.6 529.9 L913.4 527.5" stroke-width="1.32" fill="none" />
<path d="M710.8 644.7 L741.2 627.5 L755.4 635.9 L724.9 653.1Z" stroke-width="2.16" fill="none" />
<path d="M716.2 642.6 L727.3 649.3 Q740.9 643.3 751.4 635.7" stroke-width="1.5" fill="none" />
<path d="M724.9 653.1 L727.3 649.3" stroke-width="1.32" fill="none" />
<path d="M741.2 627.5 L754.7 619.8 L768.9 628.2 L755.4 635.9Z" stroke-width="2.16" fill="none" />
<path d="M744.1 626.8 L755.3 633.5 Q762.1 631.3 766.0 627.4" stroke-width="1.5" fill="none" />
<path d="M755.4 635.9 L755.3 633.5" stroke-width="1.32" fill="none" />
<path d="M754.7 619.8 L768.2 612.2 L782.4 620.6 L768.9 628.2Z" stroke-width="2.16" fill="none" />
<path d="M757.6 619.2 L768.8 625.8 Q775.6 623.7 779.5 619.8" stroke-width="1.5" fill="none" />
<path d="M768.9 628.2 L768.8 625.8" stroke-width="1.32" fill="none" />
<path d="M768.2 612.2 L781.8 604.5 L796.0 612.9 L782.4 620.6Z" stroke-width="2.16" fill="none" />
<path d="M771.1 611.5 L782.3 618.2 Q789.2 616.0 793.0 612.1" stroke-width="1.5" fill="none" />
<path d="M782.4 620.6 L782.3 618.2" stroke-width="1.32" fill="none" />
<path d="M781.8 604.5 L795.3 596.9 L809.5 605.3 L796.0 612.9Z" stroke-width="2.16" fill="none" />
<path d="M784.6 603.9 L795.9 610.5 Q802.7 608.4 806.6 604.5" stroke-width="1.5" fill="none" />
<path d="M796.0 612.9 L795.9 610.5" stroke-width="1.32" fill="none" />
<path d="M795.3 596.9 L808.8 589.2 L823.1 597.6 L809.5 605.3Z" stroke-width="2.16" fill="none" />
<path d="M798.2 596.2 L809.4 602.8 Q816.3 600.7 820.1 596.8" stroke-width="1.5" fill="none" />
<path d="M809.5 605.3 L809.4 602.8" stroke-width="1.32" fill="none" />
<path d="M808.8 589.2 L822.3 581.6 L836.6 589.9 L823.1 597.6Z" stroke-width="2.16" fill="none" />
<path d="M811.7 588.6 L822.9 595.2 Q829.8 593.0 833.6 589.1" stroke-width="1.5" fill="none" />
<path d="M823.1 597.6 L822.9 595.2" stroke-width="1.32" fill="none" />
<path d="M822.3 581.6 L835.8 573.9 L850.1 582.3 L836.6 589.9Z" stroke-width="2.16" fill="none" />
<path d="M825.2 580.9 L836.5 587.5 Q843.3 585.4 847.2 581.5" stroke-width="1.5" fill="none" />
<path d="M836.6 589.9 L836.5 587.5" stroke-width="1.32" fill="none" />
<path d="M835.8 573.9 L849.3 566.2 L863.7 574.6 L850.1 582.3Z" stroke-width="2.16" fill="none" />
<path d="M838.7 573.2 L850.0 579.9 Q856.9 577.7 860.7 573.8" stroke-width="1.5" fill="none" />
<path d="M850.1 582.3 L850.0 579.9" stroke-width="1.32" fill="none" />
<path d="M849.3 566.2 L862.9 558.6 L877.2 567.0 L863.7 574.6Z" stroke-width="2.16" fill="none" />
<path d="M852.2 565.6 L863.6 572.2 Q870.4 570.1 874.3 566.2" stroke-width="1.5" fill="none" />
<path d="M863.7 574.6 L863.6 572.2" stroke-width="1.32" fill="none" />
<path d="M862.9 558.6 L876.4 550.9 L890.8 559.3 L877.2 567.0Z" stroke-width="2.16" fill="none" />
<path d="M865.8 557.9 L877.1 564.6 Q884.0 562.4 887.8 558.5" stroke-width="1.5" fill="none" />
<path d="M877.2 567.0 L877.1 564.6" stroke-width="1.32" fill="none" />
<path d="M876.4 550.9 L900.0 537.5 L914.5 545.9 L890.8 559.3Z" stroke-width="2.16" fill="none" />
<path d="M880.8 549.4 L892.2 556.0 Q903.0 551.6 910.9 545.5" stroke-width="1.5" fill="none" />
<path d="M890.8 559.3 L892.2 556.0" stroke-width="1.32" fill="none" />
<path d="M900.0 537.5 L913.6 529.9 L928.0 538.3 L914.5 545.9Z" stroke-width="2.16" fill="none" />
<path d="M902.9 536.9 L914.3 543.5 Q921.2 541.4 925.0 537.5" stroke-width="1.5" fill="none" />
<path d="M914.5 545.9 L914.3 543.5" stroke-width="1.32" fill="none" />
<path d="M913.6 529.9 L927.1 522.2 L941.5 530.6 L928.0 538.3Z" stroke-width="2.16" fill="none" />
<path d="M916.4 529.2 L927.9 535.9 Q934.7 533.7 938.6 529.8" stroke-width="1.5" fill="none" />
<path d="M928.0 538.3 L927.9 535.9" stroke-width="1.32" fill="none" />
<path d="M724.9 653.1 L738.4 645.5 L752.6 653.8 L739.0 661.5Z" stroke-width="2.16" fill="none" />
<path d="M727.8 652.5 L738.9 659.1 Q745.8 656.9 749.6 653.0" stroke-width="1.5" fill="none" />
<path d="M739.0 661.5 L738.9 659.1" stroke-width="1.32" fill="none" />
<path d="M738.4 645.5 L752.0 637.8 L766.1 646.2 L752.6 653.8Z" stroke-width="2.16" fill="none" />
<path d="M741.3 644.8 L752.5 651.4 Q759.3 649.3 763.2 645.4" stroke-width="1.5" fill="none" />
<path d="M752.6 653.8 L752.5 651.4" stroke-width="1.32" fill="none" />
<path d="M752.0 637.8 L765.5 630.1 L779.7 638.5 L766.1 646.2Z" stroke-width="2.16" fill="none" />
<path d="M754.9 637.1 L766.0 643.8 Q772.9 641.6 776.7 637.7" stroke-width="1.5" fill="none" />
<path d="M766.1 646.2 L766.0 643.8" stroke-width="1.32" fill="none" />
<path d="M765.5 630.1 L779.1 622.5 L793.2 630.9 L779.7 638.5Z" stroke-width="2.16" fill="none" />
<path d="M768.4 629.5 L779.6 636.1 Q786.4 634.0 790.3 630.1" stroke-width="1.5" fill="none" />
<path d="M779.7 638.5 L779.6 636.1" stroke-width="1.32" fill="none" />
<path d="M779.1 622.5 L853.5 580.4 L867.8 588.8 L793.2 630.9Z" stroke-width="2.16" fill="none" />
<path d="M791.1 616.7 L802.3 623.3 Q833.3 607.5 861.2 590.0" stroke-width="1.5" fill="none" />
<path d="M793.2 630.9 L802.3 623.3" stroke-width="1.32" fill="none" />
<path d="M853.5 580.4 L867.1 572.7 L881.4 581.1 L867.8 588.8Z" stroke-width="2.16" fill="none" />
<path d="M856.4 579.7 L867.7 586.4 Q874.6 584.2 878.4 580.3" stroke-width="1.5" fill="none" />
<path d="M867.8 588.8 L867.7 586.4" stroke-width="1.32" fill="none" />
<path d="M867.1 572.7 L880.6 565.1 L895.0 573.5 L881.4 581.1Z" stroke-width="2.16" fill="none" />
<path d="M870.0 572.1 L881.3 578.7 Q888.2 576.6 892.0 572.7" stroke-width="1.5" fill="none" />
<path d="M881.4 581.1 L881.3 578.7" stroke-width="1.32" fill="none" />
<path d="M880.6 565.1 L894.1 557.4 L908.5 565.8 L895.0 573.5Z" stroke-width="2.16" fill="none" />
<path d="M883.5 564.4 L894.8 571.0 Q901.7 568.9 905.6 565.0" stroke-width="1.5" fill="none" />
<path d="M895.0 573.5 L894.8 571.0" stroke-width="1.32" fill="none" />
<path d="M894.1 557.4 L907.7 549.7 L922.1 558.1 L908.5 565.8Z" stroke-width="2.16" fill="none" />
<path d="M897.0 556.8 L908.4 563.4 Q915.3 561.2 919.1 557.3" stroke-width="1.5" fill="none" />
<path d="M908.5 565.8 L908.4 563.4" stroke-width="1.32" fill="none" />
<path d="M907.7 549.7 L921.2 542.1 L935.7 550.5 L922.1 558.1Z" stroke-width="2.16" fill="none" />
<path d="M910.6 549.1 L922.0 555.7 Q928.8 553.6 932.7 549.7" stroke-width="1.5" fill="none" />
<path d="M922.1 558.1 L922.0 555.7" stroke-width="1.32" fill="none" />
<path d="M921.2 542.1 L941.5 530.6 L956.0 539.0 L935.7 550.5Z" stroke-width="2.16" fill="none" />
<path d="M925.1 540.9 L936.5 547.5 Q946.1 543.8 952.6 538.4" stroke-width="1.5" fill="none" />
<path d="M935.7 550.5 L936.5 547.5" stroke-width="1.32" fill="none" />
<path d="M656.0 616.6 L877.0 490.0 L971.8 542.0 L738.3 662.4Z" stroke-width="2.4" fill="none" />
<path d="M867.0 480.0 L975.0 540.0" stroke-width="2.4" fill="none" />
<path d="M660.0 619.5 L878.0 494.0" stroke-width="1.44" fill="none" />
<path d="M867.0 479.7 L929.0 442.3 L1036.5 503.7 L971.0 540.5Z" stroke-width="2.6" fill="none" />
<path d="M877.0 479.7 L929.0 448.8 L941.8 457.5 L890.4 489.0Z" stroke-width="1.92" fill="none" />
<path d="M872.0 484.0 L933.0 447.0 L1030.0 503.7" stroke-width="1.44" fill="none" />
<ellipse cx="887.5" cy="481.5" rx="2.1" ry="1.8" fill="#231f20" stroke="none" transform="rotate(0 887.5 481.5)"/>
<ellipse cx="893.6" cy="478.0" rx="2.1" ry="1.8" fill="#231f20" stroke="none" transform="rotate(0 893.6 478.0)"/>
<ellipse cx="899.7" cy="474.6" rx="2.1" ry="1.8" fill="#231f20" stroke="none" transform="rotate(0 899.7 474.6)"/>
<ellipse cx="905.8" cy="471.1" rx="2.1" ry="1.8" fill="#231f20" stroke="none" transform="rotate(0 905.8 471.1)"/>
<ellipse cx="911.8" cy="467.7" rx="2.1" ry="1.8" fill="#231f20" stroke="none" transform="rotate(0 911.8 467.7)"/>
<ellipse cx="917.9" cy="464.2" rx="2.1" ry="1.8" fill="#231f20" stroke="none" transform="rotate(0 917.9 464.2)"/>
<ellipse cx="924.0" cy="460.8" rx="2.1" ry="1.8" fill="#231f20" stroke="none" transform="rotate(0 924.0 460.8)"/>
<ellipse cx="930.1" cy="457.3" rx="2.1" ry="1.8" fill="#231f20" stroke="none" transform="rotate(0 930.1 457.3)"/>
<path d="M898.6 492.6 L911.1 485.3 L924.5 493.0 L911.9 500.3Z" stroke-width="2.16" fill="none" />
<path d="M901.3 492.0 L911.8 498.1 Q918.2 496.0 921.7 492.3" stroke-width="1.5" fill="none" />
<path d="M911.9 500.3 L911.8 498.1" stroke-width="1.32" fill="none" />
<path d="M911.1 485.3 L923.7 478.0 L937.0 485.6 L924.5 493.0Z" stroke-width="2.16" fill="none" />
<path d="M913.8 484.7 L924.4 490.7 Q930.7 488.6 934.3 484.9" stroke-width="1.5" fill="none" />
<path d="M924.5 493.0 L924.4 490.7" stroke-width="1.32" fill="none" />
<path d="M923.7 478.0 L936.2 470.7 L949.6 478.2 L937.0 485.6Z" stroke-width="2.16" fill="none" />
<path d="M926.4 477.4 L936.9 483.4 Q943.3 481.2 946.8 477.6" stroke-width="1.5" fill="none" />
<path d="M937.0 485.6 L936.9 483.4" stroke-width="1.32" fill="none" />
<path d="M936.2 470.7 L948.8 463.4 L962.1 470.9 L949.6 478.2Z" stroke-width="2.16" fill="none" />
<path d="M938.9 470.1 L949.5 476.0 Q955.8 473.9 959.4 470.2" stroke-width="1.5" fill="none" />
<path d="M949.6 478.2 L949.5 476.0" stroke-width="1.32" fill="none" />
<path d="M911.9 500.3 L924.5 493.0 L937.8 500.6 L925.2 508.0Z" stroke-width="2.16" fill="none" />
<path d="M914.6 499.7 L925.1 505.8 Q931.5 503.7 935.0 499.9" stroke-width="1.5" fill="none" />
<path d="M925.2 508.0 L925.1 505.8" stroke-width="1.32" fill="none" />
<path d="M924.5 493.0 L937.0 485.6 L950.3 493.2 L937.8 500.6Z" stroke-width="2.16" fill="none" />
<path d="M927.2 492.3 L937.7 498.4 Q944.0 496.2 947.6 492.5" stroke-width="1.5" fill="none" />
<path d="M937.8 500.6 L937.7 498.4" stroke-width="1.32" fill="none" />
<path d="M937.0 485.6 L949.6 478.2 L962.9 485.8 L950.3 493.2Z" stroke-width="2.16" fill="none" />
<path d="M939.7 485.0 L950.2 490.9 Q956.6 488.8 960.1 485.1" stroke-width="1.5" fill="none" />
<path d="M950.3 493.2 L950.2 490.9" stroke-width="1.32" fill="none" />
<path d="M949.6 478.2 L962.1 470.9 L975.4 478.4 L962.9 485.8Z" stroke-width="2.16" fill="none" />
<path d="M952.3 477.6 L962.8 483.5 Q969.1 481.4 972.7 477.7" stroke-width="1.5" fill="none" />
<path d="M962.9 485.8 L962.8 483.5" stroke-width="1.32" fill="none" />
<path d="M925.2 508.0 L937.8 500.6 L951.1 508.3 L938.6 515.8Z" stroke-width="2.16" fill="none" />
<path d="M927.9 507.4 L938.4 513.5 Q944.8 511.3 948.4 507.6" stroke-width="1.5" fill="none" />
<path d="M938.6 515.8 L938.4 513.5" stroke-width="1.32" fill="none" />
<path d="M937.8 500.6 L950.3 493.2 L963.7 500.8 L951.1 508.3Z" stroke-width="2.16" fill="none" />
<path d="M940.5 500.0 L951.0 506.0 Q957.4 503.9 960.9 500.1" stroke-width="1.5" fill="none" />
<path d="M951.1 508.3 L951.0 506.0" stroke-width="1.32" fill="none" />
<path d="M950.3 493.2 L962.9 485.8 L976.2 493.3 L963.7 500.8Z" stroke-width="2.16" fill="none" />
<path d="M953.0 492.5 L963.5 498.5 Q969.9 496.4 973.5 492.6" stroke-width="1.5" fill="none" />
<path d="M963.7 500.8 L963.5 498.5" stroke-width="1.32" fill="none" />
<path d="M962.9 485.8 L975.4 478.4 L988.8 485.8 L976.2 493.3Z" stroke-width="2.16" fill="none" />
<path d="M965.6 485.1 L976.1 491.1 Q982.5 488.9 986.0 485.2" stroke-width="1.5" fill="none" />
<path d="M976.2 493.3 L976.1 491.1" stroke-width="1.32" fill="none" />
<path d="M938.6 515.8 L951.1 508.3 L964.4 515.9 L951.9 523.5Z" stroke-width="2.16" fill="none" />
<path d="M941.2 515.1 L951.8 521.2 Q958.1 519.0 961.7 515.2" stroke-width="1.5" fill="none" />
<path d="M951.9 523.5 L951.8 521.2" stroke-width="1.32" fill="none" />
<path d="M951.1 508.3 L963.7 500.8 L977.0 508.4 L964.4 515.9Z" stroke-width="2.16" fill="none" />
<path d="M953.8 507.6 L964.3 513.7 Q970.7 511.5 974.2 507.7" stroke-width="1.5" fill="none" />
<path d="M964.4 515.9 L964.3 513.7" stroke-width="1.32" fill="none" />
<path d="M963.7 500.8 L976.2 493.3 L989.5 500.9 L977.0 508.4Z" stroke-width="2.16" fill="none" />
<path d="M966.3 500.1 L976.9 506.1 Q983.2 504.0 986.8 500.2" stroke-width="1.5" fill="none" />
<path d="M977.0 508.4 L976.9 506.1" stroke-width="1.32" fill="none" />
<path d="M976.2 493.3 L988.8 485.8 L1002.1 493.3 L989.5 500.9Z" stroke-width="2.16" fill="none" />
<path d="M978.9 492.6 L989.4 498.6 Q995.8 496.4 999.3 492.6" stroke-width="1.5" fill="none" />
<path d="M989.5 500.9 L989.4 498.6" stroke-width="1.32" fill="none" />
<path d="M951.9 523.5 L964.4 515.9 L977.8 523.6 L965.2 531.2Z" stroke-width="2.16" fill="none" />
<path d="M954.6 522.8 L965.1 528.9 Q971.4 526.7 975.0 522.9" stroke-width="1.5" fill="none" />
<path d="M965.2 531.2 L965.1 528.9" stroke-width="1.32" fill="none" />
<path d="M964.4 515.9 L977.0 508.4 L990.3 516.0 L977.8 523.6Z" stroke-width="2.16" fill="none" />
<path d="M967.1 515.3 L977.6 521.3 Q984.0 519.1 987.5 515.3" stroke-width="1.5" fill="none" />
<path d="M977.8 523.6 L977.6 521.3" stroke-width="1.32" fill="none" />
<path d="M977.0 508.4 L989.5 500.9 L1002.9 508.4 L990.3 516.0Z" stroke-width="2.16" fill="none" />
<path d="M979.7 507.7 L990.2 513.7 Q996.5 511.5 1000.1 507.7" stroke-width="1.5" fill="none" />
<path d="M990.3 516.0 L990.2 513.7" stroke-width="1.32" fill="none" />
<path d="M989.5 500.9 L1002.1 493.3 L1015.4 500.8 L1002.9 508.4Z" stroke-width="2.16" fill="none" />
<path d="M992.2 500.2 L1002.7 506.1 Q1009.1 503.9 1012.6 500.1" stroke-width="1.5" fill="none" />
<path d="M1002.9 508.4 L1002.7 506.1" stroke-width="1.32" fill="none" />
<path d="M749.8 668.5 L1037.8 502.2" stroke-width="2.4" fill="none" />
<path d="M643.6 604.0 L867.0 480.7" stroke-width="2.6" fill="none" />
</g>
<g id="callouts" fill="none" stroke="#231f20" stroke-width="2.8">
<path d="M116 144.6H718"/>
<path d="M116 302.2H551"/>
<path d="M116 513.5H387"/>
<path d="M116 621H382.2L676 517"/>
<path d="M116 714.2H372.2L654.2 573.2"/>
<path d="M750 274.8H1409"/>
<path d="M922.3 427.3L1078 336.5H1409"/>
<path d="M1006 476L1134.6 405.8H1409"/>
<path d="M924.3 616.2L1138.5 472.8H1409"/>
</g>
<g id="bubbles" fill="#231f20">
<ellipse cx="116.6" cy="144.8" rx="19.3" ry="18.1"/>
<ellipse cx="116.6" cy="302.2" rx="19.3" ry="18.1"/>
<ellipse cx="116.6" cy="513.4" rx="19.3" ry="18.1"/>
<ellipse cx="116.6" cy="620.6" rx="19.3" ry="18.1"/>
<ellipse cx="116.6" cy="713.8" rx="19.3" ry="18.1"/>
<ellipse cx="1410.2" cy="274.8" rx="19.3" ry="18.1"/>
<ellipse cx="1410.2" cy="336.5" rx="19.3" ry="18.1"/>
<ellipse cx="1410.2" cy="405.8" rx="19.3" ry="18.1"/>
<ellipse cx="1410.2" cy="472.8" rx="19.3" ry="18.1"/>
</g>
<g id="bubnum" fill="#fff" font-family="Liberation Sans" font-weight="bold" font-size="27" text-anchor="middle">
<text transform="translate(115.7 312.6) scale(0.89 1)">2</text>
<text transform="translate(115.7 523.8) scale(0.89 1)">3</text>
<text transform="translate(115.7 631.0) scale(0.89 1)">4</text>
<text transform="translate(115.7 724.2) scale(0.89 1)">5</text>
<text transform="translate(1409.3 285.2) scale(0.89 1)">6</text>
<text transform="translate(1409.3 346.9) scale(0.89 1)">7</text>
<text transform="translate(1409.3 416.2) scale(0.89 1)">8</text>
<text transform="translate(1409.3 483.2) scale(0.89 1)">9</text>
</g>
<path d="M114.3 134.8H119.6V153.9H114.1V141.6L109.8 143.7V139.9Q112.8 138 114.3 134.8Z" fill="#fff"/>
<g id="legcirc" fill="none" stroke="#231f20" stroke-width="2.7">
<ellipse cx="116.1" cy="837.2" rx="17.5" ry="16"/>
<ellipse cx="116.1" cy="898.5" rx="17.5" ry="16"/>
<ellipse cx="116.1" cy="959.8" rx="17.5" ry="16"/>
<ellipse cx="116.1" cy="1021.1" rx="17.5" ry="16"/>
<ellipse cx="116.1" cy="1082.4" rx="17.5" ry="16"/>
<ellipse cx="871.7" cy="837.2" rx="17.5" ry="16"/>
<ellipse cx="871.7" cy="898.5" rx="17.5" ry="16"/>
<ellipse cx="871.7" cy="959.8" rx="17.5" ry="16"/>
<ellipse cx="871.7" cy="1021.1" rx="17.5" ry="16"/>
</g>
<g id="legnum" fill="#231f20" font-family="Liberation Sans" font-weight="bold" font-size="25.5" text-anchor="middle">
<text x="115.3" y="908.1">2</text>
<text x="115.3" y="969.4">3</text>
<text x="115.3" y="1030.7">4</text>
<text x="115.3" y="1092.0">5</text>
<text x="870.9" y="846.8">6</text>
<text x="870.9" y="908.1">7</text>
<text x="870.9" y="969.4">8</text>
<text x="870.9" y="1030.7">9</text>
</g>
<path d="M114.6 828.7H118.6V846.9H114.2V835.5L109.9 837.4V833.5Q113 831.6 114.6 828.7Z" fill="#231f20"/>
<g id="legtext" fill="#231f20" font-family="Liberation Sans" font-size="27.6">
<text x="151" y="847" textLength="442.8" lengthAdjust="spacing">Carry handle to release the 2-pt lock</text>
<text x="152" y="908.5" textLength="141.9" lengthAdjust="spacing">2-point lock</text>
<text x="152" y="969.5" textLength="215.6" lengthAdjust="spacing">Installation Slides</text>
<text x="152" y="1030.5" textLength="195.9" lengthAdjust="spacing">LCD membrane</text>
<text x="152" y="1092" textLength="387.2" lengthAdjust="spacing">Membrane switch (KVM option)</text>
<text x="912" y="846.5" textLength="394.9" lengthAdjust="spacing">LCD interchangeable module kit</text>
<text x="912" y="908.5" textLength="466.2" lengthAdjust="spacing">Micro switch for screen auto power off</text>
<text x="912" y="969.5" textLength="452.5" lengthAdjust="spacing">Keyboard interchangeable module kit</text>
<text x="912" y="1030.5" textLength="417.5" lengthAdjust="spacing">Mouse interchangeable module kit</text>
</g>
<g id="pill">
<path d="M416 938H732Q740 938 736 945L720 970Q717 975 710 975H395Q387 975 391 968L406 943Q409 938 416 938Z" fill="#161819"/>
<g fill="none" stroke="#fff" stroke-width="2.3" stroke-linejoin="miter" stroke-miterlimit="4">
<path d="M449.5 961.5L454.5 952.5L459.8 961.5"/>
<path d="M480.6 951.2L486 960.3L491.4 951.2"/>
<path d="M522.3 951L514 956.4L522.3 961.9"/>
<path d="M544.4 951L552.7 956.4L544.4 961.9"/>
<path d="M608 952.8H613.5Q618.2 952.8 618.2 957.3Q618.2 961.8 613.5 961.8H607.8"/>
<path d="M670 954.3A4.5 4.5 0 1 0 675.2 954.3"/>
</g>
<g fill="#fff">
<rect x="574" y="950.2" width="3" height="2.7"/><rect x="574" y="955.2" width="3" height="2.7"/><rect x="574" y="959.9" width="3" height="2.9"/>
<rect x="579" y="950.2" width="7.8" height="2.7"/><rect x="579" y="955.2" width="7.8" height="2.7"/><rect x="579" y="959.9" width="7.8" height="2.9"/>
<path d="M605.5 952.8L609 949.8V955.8Z"/>
<rect x="671.4" y="949.4" width="2.4" height="7.2"/>
</g>
</g>
</svg>
</body></html>
